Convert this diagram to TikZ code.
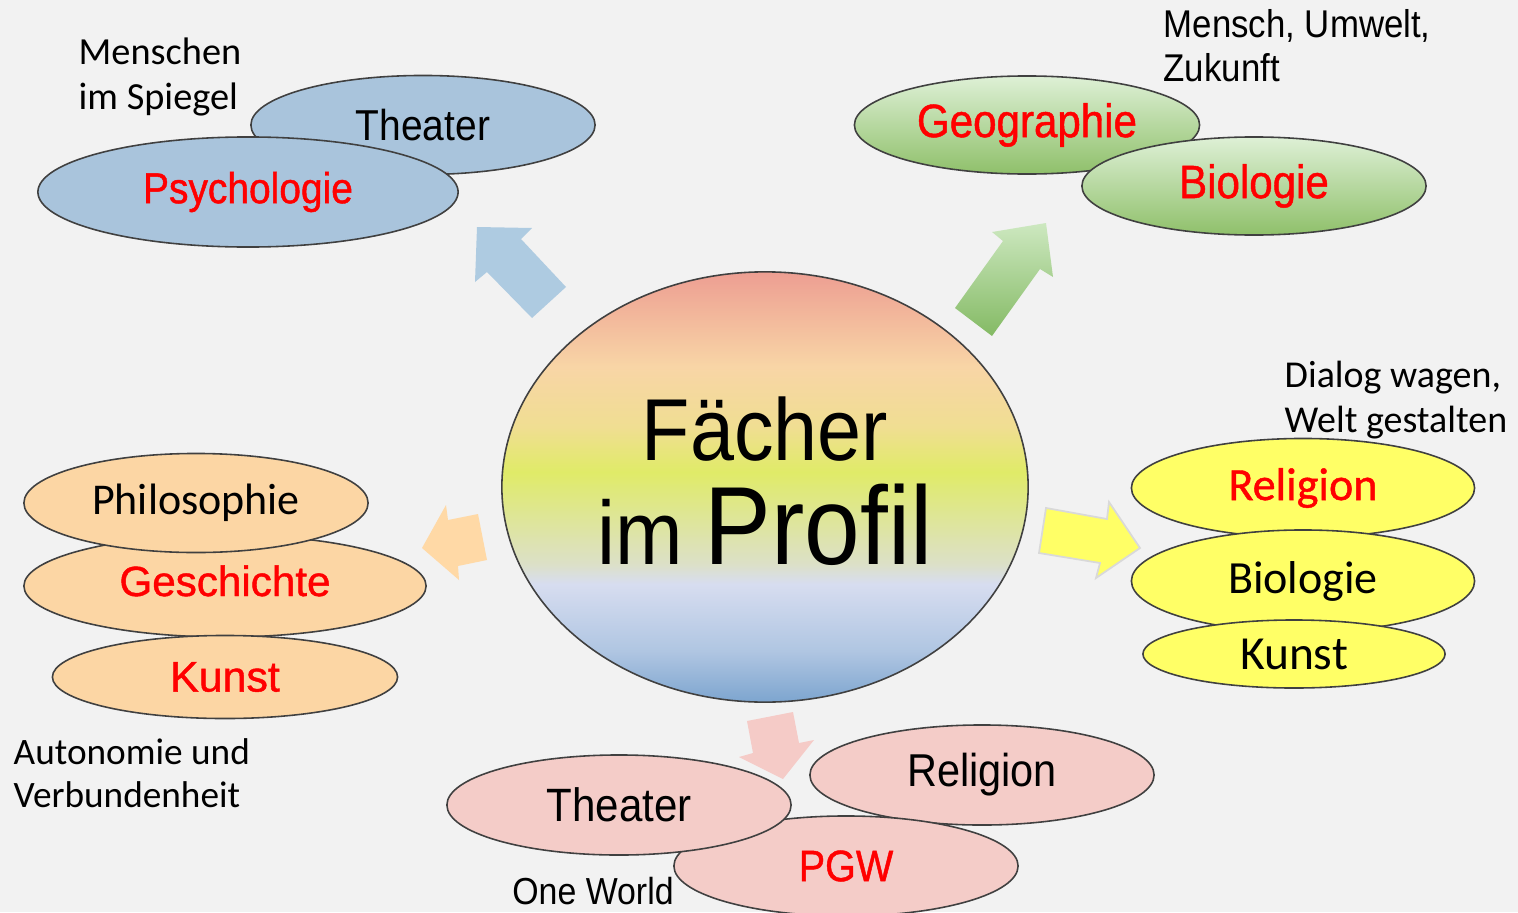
\documentclass[tikz,border=0pt]{standalone}
\usepackage{fontspec}
\setmainfont{Carlito}
\newfontfamily\narrowfont[FakeStretch=0.9]{Liberation Sans}
\newfontfamily\narrowredfont[FakeStretch=0.9, FakeBold=1]{Liberation Sans}
\newfontfamily\arialredfont[FakeBold=1]{Liberation Sans}
\newfontfamily\carlitored[FakeBold=1]{Carlito}
\usetikzlibrary{shapes.geometric}

\definecolor{bgray}{RGB}{242,242,242}
\definecolor{rimgray}{RGB}{64,64,64}
\definecolor{textred}{RGB}{255,0,0}
\definecolor{skyfill}{RGB}{169,196,220}
\definecolor{skyarrow}{RGB}{174,203,225}
\definecolor{leaftop}{RGB}{222,240,214}
\definecolor{leafbot}{RGB}{143,192,106}
\definecolor{arrowleaftop}{RGB}{205,232,192}
\definecolor{arrowleafbot}{RGB}{132,186,100}
\definecolor{lemon}{RGB}{255,255,102}
\definecolor{peach}{RGB}{252,214,164}
\definecolor{peacharrow}{RGB}{255,217,166}
\definecolor{rose}{RGB}{244,204,200}
\definecolor{rosearrow}{RGB}{245,203,199}
%% colours of the centre disc, top to bottom
\definecolor{pa}{RGB}{237,158,146}
\definecolor{pb}{RGB}{248,213,166}
\definecolor{pc}{RGB}{240,222,146}
\definecolor{pd}{RGB}{224,235,104}
\definecolor{pe}{RGB}{220,224,200}
\definecolor{pf}{RGB}{215,221,240}
\definecolor{pg}{RGB}{176,198,226}
\definecolor{ph}{RGB}{125,165,207}
\pgfdeclareverticalshading{profilshade}{100bp}{color(0bp)=(ph); color(25bp)=(ph);
  color(31bp)=(pg); color(38.75bp)=(pf); color(41bp)=(pe); color(51.75bp)=(pd);
  color(57bp)=(pc); color(64bp)=(pb); color(75bp)=(pa); color(100bp)=(pa)}

\newcommand{\fsz}[2]{\fontsize{#1}{#2}\selectfont}

\begin{document}
\begin{tikzpicture}[x=0.01cm, y=-0.01cm,
    bubble/.style={ellipse, draw=rimgray, line width=.45pt, inner sep=0pt},
    note/.style={anchor=north west, align=left, inner sep=0pt}]

      \useasboundingbox (0,0) rectangle (1518,912);
      \fill[bgray] (0,0) rectangle (1518,912);

          %% block arrows leaving the disc
      \fill[skyarrow] (477,227) -- (532,228) -- (521,239) -- (566,287) -- (532,318)
      -- (487,272) -- (475,282) -- cycle;
      \shade[top color=arrowleaftop, bottom color=arrowleafbot] (1046,223) -- (1053,277)
      -- (1040,269) -- (992,336) -- (955,308) -- (1003,241) -- (992,232) -- cycle;
      \fill[peacharrow] (422,548) -- (446,505) -- (448,520) -- (478,514) -- (487,560)
      -- (458,566) -- (459,580) -- cycle;
      \filldraw[fill=lemon, draw=black!15, line width=.5pt] (1140,548) -- (1109,502)
      -- (1107,519) -- (1046,508) -- (1039,553) -- (1100,563) -- (1096,578) -- cycle;
      \fill[rosearrow] (783,779) -- (739,757) -- (753,753) -- (747,721) -- (793,712)
      -- (799,743) -- (814,740) -- cycle;

          %% blue group, upper left
      \node (theaterblue) at (423,125) [bubble, fill=skyfill, minimum width=3.44cm,
      minimum height=.99cm, font=\narrowfont\fsz{12.3}{14}] {Theater};
      \node (psychologie) at (248,192) [bubble, fill=skyfill, minimum width=4.2cm,
      minimum height=1.1cm, font=\narrowredfont\fsz{12.3}{14}, text=textred] {Psychologie};
      \node (spiegel) at (78,37) [note, font=\fsz{10.9}{12.8}] {Menschen\\im Spiegel};

          %% green group, upper right
      \node (geographie) at (1027,125) [bubble, top color=leaftop, bottom color=leafbot,
      minimum width=3.45cm, minimum height=.98cm, font=\narrowredfont\fsz{13.3}{15},
      text=textred] {Geographie};
      \node (biogreen) at (1254,186) [bubble, top color=leaftop, bottom color=leafbot,
      minimum width=3.44cm, minimum height=.98cm, font=\narrowredfont\fsz{13.3}{15},
      text=textred] {Biologie};
      \node (umwelt) at (1163,9) [note, font=\narrowfont\fsz{11}{12.5}] {Mensch, Umwelt,\\Zukunft};

          %% yellow group, right
      \node (religionyel) at (1303,488) [bubble, fill=lemon, minimum width=3.43cm,
      minimum height=.99cm, font=\carlitored\fsz{13.1}{15}, text=textred] {Religion};
      \node (bioyel) at (1303,581) [bubble, fill=lemon, minimum width=3.43cm,
      minimum height=1.02cm, font=\fsz{13.1}{15}] {Biologie};
      \node (kunstyel) at (1294,654) [bubble, fill=lemon, minimum width=3.02cm,
      minimum height=.68cm, font=\fsz{13.5}{15}] {Kunst};
      \node (dialog) at (1284,360) [note, font=\fsz{10.8}{12.8}] {Dialog wagen,\\Welt gestalten};

          %% orange group, left
      \node (geschichte) at (225,586) [bubble, fill=peach, minimum width=4.02cm,
      minimum height=1.02cm, font=\arialredfont\fsz{12}{14}, text=textred]
      {\raisebox{3pt}{Geschichte}};
      \node (philosophie) at (196,503) [bubble, fill=peach, minimum width=3.44cm,
      minimum height=.99cm, font=\fsz{12.5}{14}] {Philosophie};
      \node (kunstor) at (225,677) [bubble, fill=peach, minimum width=3.45cm,
      minimum height=.83cm, font=\arialredfont\fsz{12.2}{14}, text=textred] {Kunst};
      \node (autonomie) at (13,738) [note, font=\fsz{10.6}{12.3}] {Autonomie und\\Verbundenheit};

          %% pink group, bottom
      \node (religionpink) at (982,775) [bubble, fill=rose, minimum width=3.44cm,
      minimum height=1cm, font=\narrowfont\fsz{13.1}{15}] {Religion};
      \node (pgw) at (846,866) [bubble, fill=rose, minimum width=3.44cm,
      minimum height=1cm, font=\narrowredfont\fsz{12.5}{15}, text=textred] {PGW};
      \node (theaterpink) at (619,805) [bubble, fill=rose, minimum width=3.44cm,
      minimum height=1cm, font=\narrowfont\fsz{13.3}{15}] {Theater};
      \node (oneworld) at (593,891) [inner sep=0pt, font=\narrowfont\fsz{10.7}{12}] {One World};

          %% the disc in the middle
      \node (profil) at (765,487) [bubble, shade, shading=profilshade, minimum width=5.26cm,
      minimum height=4.3cm] {};
      \node (title) at (765,481) [align=center, inner sep=0pt,
      font=\narrowfont\fsz{25}{29.6}] {F\"acher\\{\fsz{25.6}{29.6}im} {\fsz{31.6}{29.6}Profil}};

        \end{tikzpicture}
\end{document}
